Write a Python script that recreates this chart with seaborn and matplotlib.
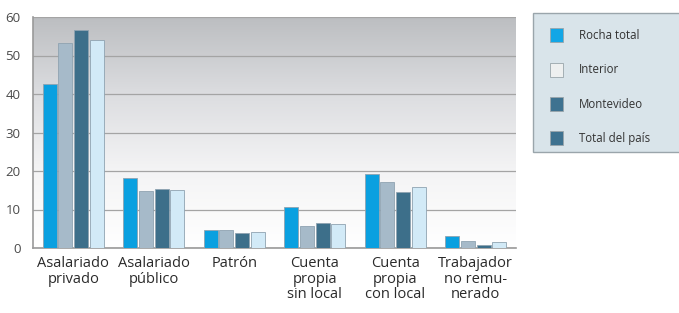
import numpy as np
import pandas as pd
import matplotlib
matplotlib.use('Agg')
import matplotlib.pyplot as plt
from matplotlib.patches import Patch, Rectangle
import seaborn as sns

# data (percent)
categories = ['Asalariado\nprivado', 'Asalariado\npúblico', 'Patrón',
              'Cuenta\npropia\nsin local', 'Cuenta\npropia\ncon local',
              'Trabajador\nno remu-\nnerado']
series = ['Rocha total', 'Interior', 'Montevideo', 'Total del país']
rocha = [42.7, 18.1, 4.7, 10.6, 19.2, 3.1]
interior = [53.3, 14.9, 4.7, 5.7, 17.2, 1.9]
montevideo = [56.6, 15.2, 3.8, 6.6, 14.5, 0.8]
total_pais = [54.0, 15.1, 4.2, 6.2, 15.8, 1.6]

bar_colors = ['#0aa0e0', '#a6bac9', '#3d6f8a', '#d2eaf7']
legend_colors = ['#12a6e6', '#eef0f0', '#3e7290', '#3e7290']

df = pd.DataFrame({
    'cat': categories * 4,
    'serie': [s for s in series for _ in categories],
    'valor': rocha + interior + montevideo + total_pais,
})

sns.set_style('white')
plt.rcParams['font.family'] = ['Open Sans', 'DejaVu Sans']

fig = plt.figure(figsize=(6.79, 3.13), dpi=100)
ax = fig.add_axes([33 / 679, 1 - 248 / 313, (516 - 33) / 679, (248 - 17) / 313])

# gray-to-white gradient background
grad = np.linspace(0, 1, 256).reshape(-1, 1)
ax.imshow(grad, cmap=matplotlib.colors.LinearSegmentedColormap.from_list(
    'bg', ['#bcbec1', '#dcdde0', '#f4f4f5', '#ffffff']), aspect='auto',
    extent=(-0.5, 5.5, 0, 60), origin='upper', zorder=0)

sns.barplot(data=df, x='cat', y='valor', hue='serie', palette=bar_colors,
            saturation=1, width=0.78, gap=0.1, edgecolor='#8fa3b1',
            linewidth=0.6, ax=ax, zorder=3, legend=False)

ax.set_xlim(-0.5, 5.5)
ax.set_ylim(0, 60)
ax.set_yticks(range(0, 61, 10))
ax.yaxis.grid(True, color='#a4a4a4', linewidth=0.9, zorder=1)
ax.set_axisbelow(True)
ax.set_xlabel('')
ax.set_ylabel('')
for s in ['top', 'right']:
    ax.spines[s].set_visible(False)
ax.spines['left'].set_color('#9a9a9a')
ax.spines['bottom'].set_color('#9a9a9a')
ax.spines['left'].set_linewidth(1.2)
ax.spines['bottom'].set_linewidth(1.2)

ax.tick_params(axis='y', labelsize=9.5, colors='#4a4a4a', length=0, pad=9)
ax.tick_params(axis='x', labelsize=10.5, colors='#2a2a2a', length=0, pad=6)
ax.set_xticks(np.arange(0.5, 5, 1), minor=True)
ax.tick_params(axis='x', which='minor', direction='in', length=4,
               color='#8a8a8a', width=1)
for lbl in ax.get_xticklabels():
    lbl.set_linespacing(1.05)

# legend box
fig.patches.append(Rectangle((533 / 679, 1 - 152 / 313), 0.3, 139 / 313,
                             transform=fig.transFigure, facecolor='#d9e4ea',
                             edgecolor='#9aa5ab', linewidth=1, zorder=0))
handles = [Patch(facecolor=c, edgecolor='#9aa5ab', linewidth=0.6) for c in legend_colors]
fig.legend(handles, series, loc='upper left',
           bbox_to_anchor=(540 / 679, 1 - 18 / 313), frameon=False,
           fontsize=8.3, labelcolor='#333333', handlelength=1.1,
           handleheight=1.5, handletextpad=1.4, labelspacing=1.75)

plt.savefig('out.png', dpi=100)
